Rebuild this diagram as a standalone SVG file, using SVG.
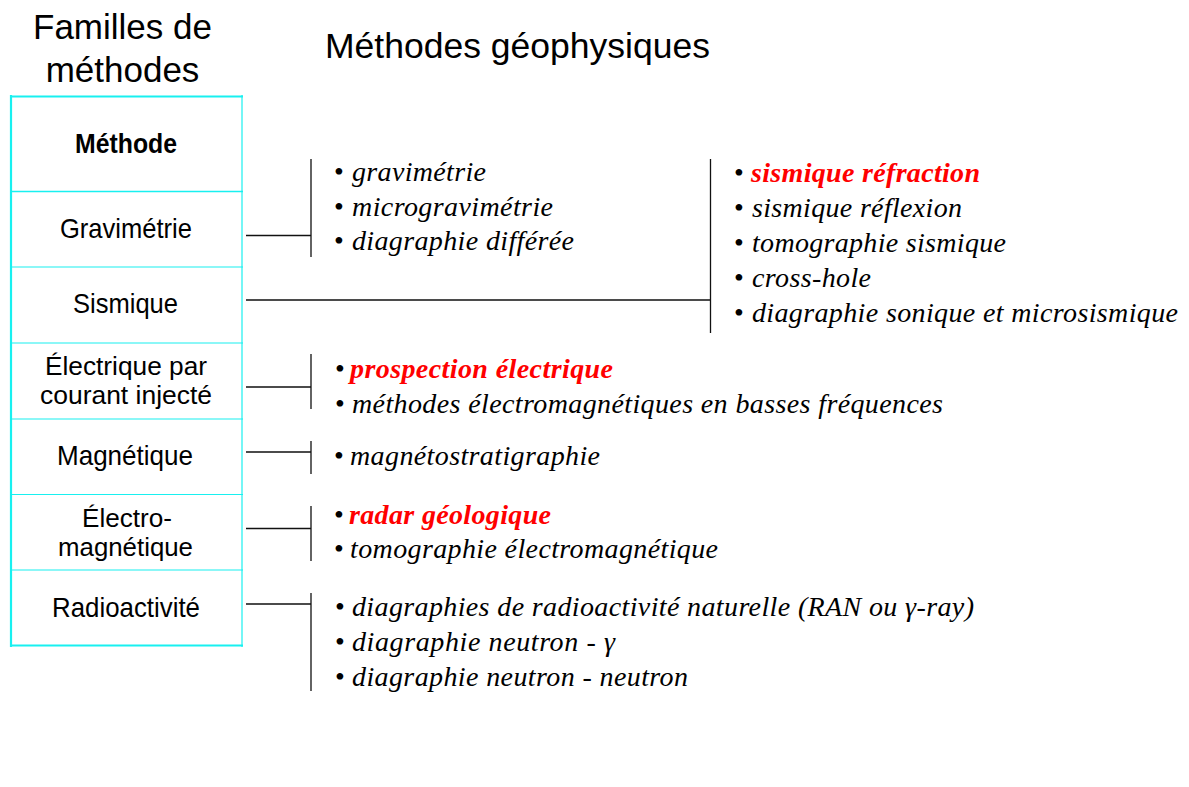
<svg xmlns="http://www.w3.org/2000/svg" width="1189" height="787" viewBox="0 0 1189 787">
<style>
.title{font-family:"Liberation Sans",Arial,sans-serif;font-size:35px;fill:#000}
.lbl{font-family:"Liberation Sans",Arial,sans-serif;font-size:28px;fill:#000;text-anchor:middle}
.sm{font-size:26px}
.hdr{font-weight:bold}
.grid{stroke:#18f0f0;fill:none}
.it{font-family:"Liberation Serif","Times New Roman",serif;font-size:28px;font-style:italic;fill:#000}
.red{fill:#ff0000;font-weight:bold}
.bul{font-family:"Liberation Serif","Times New Roman",serif;font-size:28px;fill:#000;text-anchor:middle}
.con{stroke:#111;stroke-width:1.3;fill:none}
</style>
<rect width="1189" height="787" fill="#fff"/>
<g id="titles">
<text class="title" x="122.5" y="39" text-anchor="middle">Familles de</text>
<text class="title" x="122.5" y="82" text-anchor="middle">méthodes</text>
<text class="title" x="325" y="58" textLength="385" lengthAdjust="spacingAndGlyphs">Méthodes géophysiques</text>
</g>
<g id="table">
<line class="grid" x1="11" y1="95" x2="11" y2="647" stroke-width="2.2"/>
<line class="grid" x1="242" y1="95" x2="242" y2="647" stroke-width="1.2"/>
<line class="grid" x1="10" y1="96.5" x2="243" y2="96.5" stroke-width="2"/>
<line class="grid" x1="10" y1="191.5" x2="243" y2="191.5" stroke-width="1.6"/>
<line class="grid" x1="10" y1="267" x2="243" y2="267" stroke-width="1.1"/>
<line class="grid" x1="10" y1="343" x2="243" y2="343" stroke-width="1.1"/>
<line class="grid" x1="10" y1="419" x2="243" y2="419" stroke-width="1.1"/>
<line class="grid" x1="10" y1="494.5" x2="243" y2="494.5" stroke-width="1.1"/>
<line class="grid" x1="10" y1="570" x2="243" y2="570" stroke-width="1.1"/>
<line class="grid" x1="10" y1="645.5" x2="243" y2="645.5" stroke-width="2"/>
</g>
<g id="n-methode"><text class="lbl hdr" x="126" y="153" textLength="102" lengthAdjust="spacingAndGlyphs">Méthode</text></g>
<g id="n-gravimetrie"><text class="lbl" x="126" y="238" textLength="132" lengthAdjust="spacingAndGlyphs">Gravimétrie</text></g>
<g id="n-sismique"><text class="lbl" x="125.5" y="313" textLength="105" lengthAdjust="spacingAndGlyphs">Sismique</text></g>
<g id="n-electrique"><text class="lbl sm" x="126" y="375" textLength="162" lengthAdjust="spacingAndGlyphs">Électrique par</text><text class="lbl sm" x="126" y="404" textLength="172" lengthAdjust="spacingAndGlyphs">courant injecté</text></g>
<g id="n-magnetique"><text class="lbl" x="125" y="465" textLength="136" lengthAdjust="spacingAndGlyphs">Magnétique</text></g>
<g id="n-electromagnetique"><text class="lbl sm" x="127" y="527" textLength="90" lengthAdjust="spacingAndGlyphs">Électro-</text><text class="lbl sm" x="125.5" y="556" textLength="135" lengthAdjust="spacingAndGlyphs">magnétique</text></g>
<g id="n-radioactivite"><text class="lbl" x="126" y="617" textLength="148" lengthAdjust="spacingAndGlyphs">Radioactivité</text></g>
<g id="connectors">
<path class="con" d="M246 235.5H311M311 159V257"/>
<path class="con" d="M246 300H710.5M710.5 159V333"/>
<path class="con" d="M246 387H311M311 354V409"/>
<path class="con" d="M246 452H311M311 441V474"/>
<path class="con" d="M246 528.5H311M311 506V561"/>
<path class="con" d="M246 604H311M311 593V691"/>
</g>
<g id="l-gravimetrie">
<text class="bul" x="339" y="181">•</text><text class="it" x="352" y="181" textLength="134">gravimétrie</text>
<text class="bul" x="339" y="216">•</text><text class="it" x="352" y="216" textLength="201">microgravimétrie</text>
<text class="bul" x="339" y="250">•</text><text class="it" x="352" y="250" textLength="222">diagraphie différée</text>
</g>
<g id="l-sismique">
<text class="bul" x="739" y="182">•</text><text class="it red" x="751" y="182" textLength="229">sismique réfraction</text>
<text class="bul" x="739" y="217">•</text><text class="it" x="752" y="217" textLength="210">sismique réflexion</text>
<text class="bul" x="739" y="252">•</text><text class="it" x="752" y="252" textLength="254">tomographie sismique</text>
<text class="bul" x="739" y="287">•</text><text class="it" x="752" y="287" textLength="119">cross-hole</text>
<text class="bul" x="739" y="322">•</text><text class="it" x="752" y="322" textLength="426">diagraphie sonique et microsismique</text>
</g>
<g id="l-electrique">
<text class="bul" x="340" y="378">•</text><text class="it red" x="350" y="378" textLength="263">prospection électrique</text>
<text class="bul" x="340" y="413">•</text><text class="it" x="352" y="413" textLength="591">méthodes électromagnétiques en basses fréquences</text>
</g>
<g id="l-magnetique">
<text class="bul" x="339" y="465">•</text><text class="it" x="350" y="465" textLength="250">magnétostratigraphie</text>
</g>
<g id="l-electromagnetique">
<text class="bul" x="339" y="524">•</text><text class="it red" x="349" y="524" textLength="202">radar géologique</text>
<text class="bul" x="339" y="558">•</text><text class="it" x="350" y="558" textLength="368">tomographie électromagnétique</text>
</g>
<g id="l-radioactivite">
<text class="bul" x="340" y="616">•</text><text class="it" x="352" y="616" textLength="622">diagraphies de radioactivité naturelle (RAN ou γ-ray)</text>
<text class="bul" x="340" y="651">•</text><text class="it" x="352" y="651" textLength="263">diagraphie neutron - γ</text>
<text class="bul" x="340" y="686">•</text><text class="it" x="352" y="686" textLength="336">diagraphie neutron - neutron</text>
</g>
</svg>
